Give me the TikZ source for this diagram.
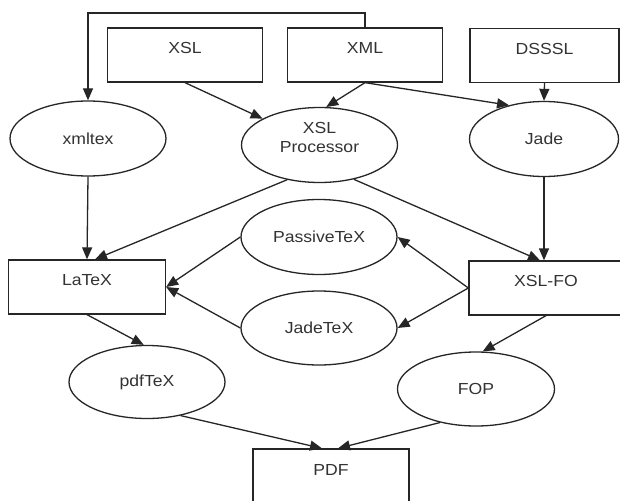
\documentclass[tikz,border=0pt]{standalone}
\usepackage{fontspec}
\setmainfont{Liberation Sans}[FakeStretch=1.1]
\usetikzlibrary{shapes.geometric,arrows.meta}

\begin{document}
\begin{tikzpicture}[
    x=1pt, y=-1pt,
    every node/.style={font=\fontsize{16}{19}\selectfont, text=black!80},
    blk/.style={rectangle, draw=black!85, line width=1.3pt, minimum width=155pt, minimum height=54pt, text height=11.5pt, text depth=14pt},
    ell/.style={ellipse, draw=black!85, line width=1.3pt, minimum width=156pt, minimum height=75pt, inner sep=0pt},
    arr/.style={draw=black!85, line width=1.3pt, -{Triangle[length=12pt,width=10pt]}}
]
\useasboundingbox (0,0) rectangle (620,500);
\clip (0,0) rectangle (620,500);
\fill[white] (0,0) rectangle (620,500);

% sources
\node[blk] (xsl) at (185,55) {XSL};
\node[blk] (xml) at (365,55) {XML};
\node[blk, minimum width=149pt] (dsssl) at (544.5,55.5) {DSSSL};

% processors
\node[ell] (xmltex) at (88,138.5) {xmltex};
\node[ell, align=center, text height=30.5pt, text depth=15pt] (xslproc) at (319.5,145) {XSL\\Processor};
\node[ell, minimum width=149pt] (jade) at (544,139) {Jade};

\node[blk, minimum width=157pt] (latex) at (87,287) {LaTeX};
\node[blk, minimum width=154pt] (xslfo) at (546,288) {XSL-FO};
\node[ell] (passive) at (319,237) {PassiveTeX};
\node[ell, minimum height=74pt] (jadetex) at (319,328) {JadeTeX};

\node[ell, minimum height=73pt] (pdftex) at (147,382) {pdfTeX};
\node[ell, minimum width=157pt, minimum height=74pt] (fop) at (476,389) {FOP};
\node[blk, minimum width=156pt, minimum height=55pt] (pdf) at (331,476.5) {PDF};

% edges
\coordinate (top) at (365,13);
\draw[arr] (xml.north) -- (top) -| (xmltex.north);
\foreach \a/\b in {xsl.south/xslproc, xml.south/xslproc.80, xml.south/jade.136,
    dsssl.south/jade.north, xmltex.south/latex.north, xslfo.west/passive.east,
    xslfo.west/jadetex.east, passive.west/latex.east, jadetex.west/latex.east,
    latex.south/pdftex.95, xslfo.south/fop.80} {
    \draw[arr] (\a) -- (\b);
}
\draw[arr] (xslproc.227) -- ([xshift=8pt]latex.north);
\draw[arr] (xslproc.315) -- ([xshift=-6pt]xslfo.north);
\draw[arr] (jade.south) -- (jade.south |- xslfo.north);
\draw[arr] (pdftex.315) -- ([xshift=-9pt]pdf.north);
\draw[arr] (fop.223) -- ([xshift=7pt]pdf.north);
\end{tikzpicture}
\end{document}
